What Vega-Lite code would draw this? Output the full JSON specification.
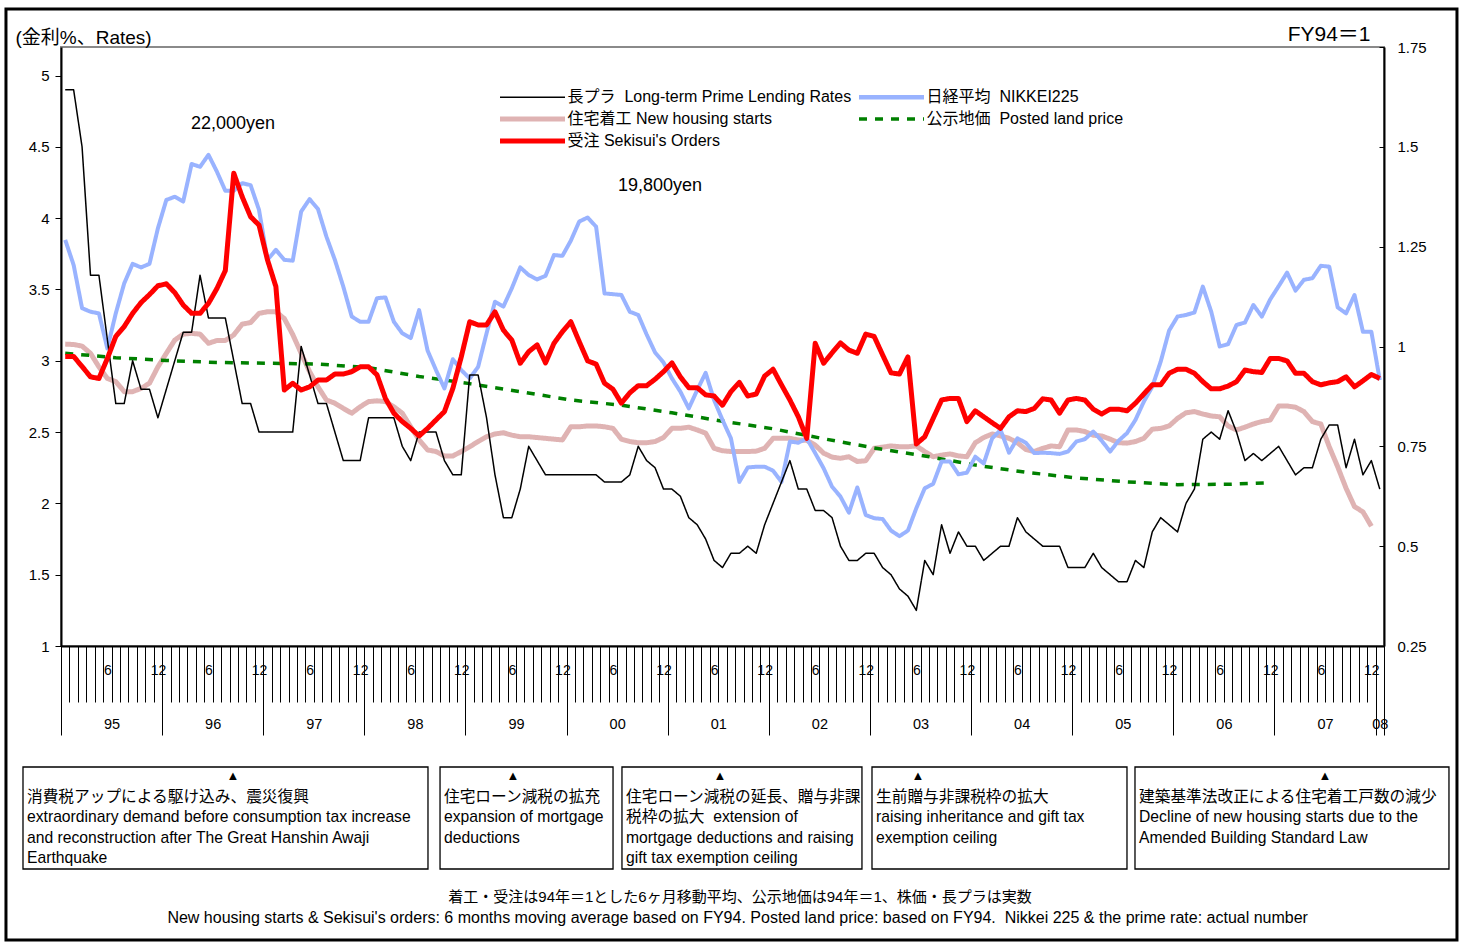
{
"$schema": "https://vega.github.io/schema/vega-lite/v6.json",
"width": 1323,
"height": 599,
"autosize": {"type": "none"},
"padding": {"left": 61, "top": 47, "right": 82, "bottom": 297},
"background": "white",
"config": {
  "font": "Liberation Sans, Noto Sans CJK JP, sans-serif",
  "view": {"stroke": "#8a8a8a", "strokeWidth": 2},
  "axis": {"grid": false, "domainColor": "black", "tickColor": "black", "labelColor": "black", "titleColor": "black", "titleFontWeight": "normal", "labelFont": "Liberation Sans, Noto Sans CJK JP, sans-serif", "titleFont": "Liberation Sans, Noto Sans CJK JP, sans-serif"},
  "legend": {"labelFont": "Liberation Sans, Noto Sans CJK JP, sans-serif", "labelColor": "black"},
  "text": {"font": "Liberation Sans, Noto Sans CJK JP, sans-serif", "color": "black"}
},
"datasets": {
  "prime": [{"m":0,"rate":4.9},{"m":1,"rate":4.9},{"m":2,"rate":4.5},{"m":3,"rate":3.6},{"m":4,"rate":3.6},{"m":5,"rate":3.15},{"m":6,"rate":2.7},{"m":7,"rate":2.7},{"m":8,"rate":3.0},{"m":9,"rate":2.8},{"m":10,"rate":2.8},{"m":11,"rate":2.6},{"m":12,"rate":2.8},{"m":13,"rate":3.0},{"m":14,"rate":3.2},{"m":15,"rate":3.2},{"m":16,"rate":3.6},{"m":17,"rate":3.3},{"m":18,"rate":3.3},{"m":19,"rate":3.3},{"m":20,"rate":3.0},{"m":21,"rate":2.7},{"m":22,"rate":2.7},{"m":23,"rate":2.5},{"m":24,"rate":2.5},{"m":25,"rate":2.5},{"m":26,"rate":2.5},{"m":27,"rate":2.5},{"m":28,"rate":3.1},{"m":29,"rate":2.9},{"m":30,"rate":2.7},{"m":31,"rate":2.7},{"m":32,"rate":2.5},{"m":33,"rate":2.3},{"m":34,"rate":2.3},{"m":35,"rate":2.3},{"m":36,"rate":2.6},{"m":37,"rate":2.6},{"m":38,"rate":2.6},{"m":39,"rate":2.6},{"m":40,"rate":2.4},{"m":41,"rate":2.3},{"m":42,"rate":2.5},{"m":43,"rate":2.5},{"m":44,"rate":2.5},{"m":45,"rate":2.3},{"m":46,"rate":2.2},{"m":47,"rate":2.2},{"m":48,"rate":2.9},{"m":49,"rate":2.9},{"m":50,"rate":2.6},{"m":51,"rate":2.2},{"m":52,"rate":1.9},{"m":53,"rate":1.9},{"m":54,"rate":2.1},{"m":55,"rate":2.4},{"m":56,"rate":2.3},{"m":57,"rate":2.2},{"m":58,"rate":2.2},{"m":59,"rate":2.2},{"m":60,"rate":2.2},{"m":61,"rate":2.2},{"m":62,"rate":2.2},{"m":63,"rate":2.2},{"m":64,"rate":2.15},{"m":65,"rate":2.15},{"m":66,"rate":2.15},{"m":67,"rate":2.2},{"m":68,"rate":2.4},{"m":69,"rate":2.3},{"m":70,"rate":2.25},{"m":71,"rate":2.1},{"m":72,"rate":2.1},{"m":73,"rate":2.05},{"m":74,"rate":1.9},{"m":75,"rate":1.85},{"m":76,"rate":1.75},{"m":77,"rate":1.6},{"m":78,"rate":1.55},{"m":79,"rate":1.65},{"m":80,"rate":1.65},{"m":81,"rate":1.7},{"m":82,"rate":1.65},{"m":83,"rate":1.85},{"m":84,"rate":2.0},{"m":85,"rate":2.15},{"m":86,"rate":2.3},{"m":87,"rate":2.1},{"m":88,"rate":2.1},{"m":89,"rate":1.95},{"m":90,"rate":1.95},{"m":91,"rate":1.9},{"m":92,"rate":1.7},{"m":93,"rate":1.6},{"m":94,"rate":1.6},{"m":95,"rate":1.65},{"m":96,"rate":1.65},{"m":97,"rate":1.55},{"m":98,"rate":1.5},{"m":99,"rate":1.4},{"m":100,"rate":1.35},{"m":101,"rate":1.25},{"m":102,"rate":1.6},{"m":103,"rate":1.5},{"m":104,"rate":1.85},{"m":105,"rate":1.65},{"m":106,"rate":1.8},{"m":107,"rate":1.7},{"m":108,"rate":1.7},{"m":109,"rate":1.6},{"m":110,"rate":1.65},{"m":111,"rate":1.7},{"m":112,"rate":1.7},{"m":113,"rate":1.9},{"m":114,"rate":1.8},{"m":115,"rate":1.75},{"m":116,"rate":1.7},{"m":117,"rate":1.7},{"m":118,"rate":1.7},{"m":119,"rate":1.55},{"m":120,"rate":1.55},{"m":121,"rate":1.55},{"m":122,"rate":1.65},{"m":123,"rate":1.55},{"m":124,"rate":1.5},{"m":125,"rate":1.45},{"m":126,"rate":1.45},{"m":127,"rate":1.6},{"m":128,"rate":1.55},{"m":129,"rate":1.8},{"m":130,"rate":1.9},{"m":131,"rate":1.85},{"m":132,"rate":1.8},{"m":133,"rate":2.0},{"m":134,"rate":2.1},{"m":135,"rate":2.45},{"m":136,"rate":2.5},{"m":137,"rate":2.45},{"m":138,"rate":2.65},{"m":139,"rate":2.5},{"m":140,"rate":2.3},{"m":141,"rate":2.35},{"m":142,"rate":2.3},{"m":143,"rate":2.35},{"m":144,"rate":2.4},{"m":145,"rate":2.3},{"m":146,"rate":2.2},{"m":147,"rate":2.25},{"m":148,"rate":2.25},{"m":149,"rate":2.45},{"m":150,"rate":2.55},{"m":151,"rate":2.55},{"m":152,"rate":2.25},{"m":153,"rate":2.45},{"m":154,"rate":2.2},{"m":155,"rate":2.3},{"m":156,"rate":2.1}],
  "orders": [{"m":0,"index":0.975},{"m":1,"index":0.975},{"m":2,"index":0.95},{"m":3,"index":0.924},{"m":4,"index":0.92},{"m":5,"index":0.97},{"m":6,"index":1.025},{"m":7,"index":1.05},{"m":8,"index":1.083},{"m":9,"index":1.11},{"m":10,"index":1.13},{"m":11,"index":1.152},{"m":12,"index":1.157},{"m":13,"index":1.135},{"m":14,"index":1.104},{"m":15,"index":1.083},{"m":16,"index":1.083},{"m":17,"index":1.108},{"m":18,"index":1.145},{"m":19,"index":1.19},{"m":20,"index":1.434},{"m":21,"index":1.375},{"m":22,"index":1.325},{"m":23,"index":1.304},{"m":24,"index":1.217},{"m":25,"index":1.15},{"m":26,"index":0.891},{"m":27,"index":0.908},{"m":28,"index":0.891},{"m":29,"index":0.899},{"m":30,"index":0.916},{"m":31,"index":0.916},{"m":32,"index":0.931},{"m":33,"index":0.931},{"m":34,"index":0.937},{"m":35,"index":0.949},{"m":36,"index":0.949},{"m":37,"index":0.929},{"m":38,"index":0.87},{"m":39,"index":0.833},{"m":40,"index":0.812},{"m":41,"index":0.795},{"m":42,"index":0.776},{"m":43,"index":0.795},{"m":44,"index":0.816},{"m":45,"index":0.837},{"m":46,"index":0.895},{"m":47,"index":0.974},{"m":48,"index":1.062},{"m":49,"index":1.054},{"m":50,"index":1.054},{"m":51,"index":1.087},{"m":52,"index":1.041},{"m":53,"index":1.016},{"m":54,"index":0.958},{"m":55,"index":0.987},{"m":56,"index":1.004},{"m":57,"index":0.959},{"m":58,"index":1.008},{"m":59,"index":1.037},{"m":60,"index":1.062},{"m":61,"index":1.012},{"m":62,"index":0.964},{"m":63,"index":0.956},{"m":64,"index":0.908},{"m":65,"index":0.893},{"m":66,"index":0.858},{"m":67,"index":0.884},{"m":68,"index":0.902},{"m":69,"index":0.902},{"m":70,"index":0.918},{"m":71,"index":0.937},{"m":72,"index":0.959},{"m":73,"index":0.924},{"m":74,"index":0.897},{"m":75,"index":0.897},{"m":76,"index":0.879},{"m":77,"index":0.876},{"m":78,"index":0.853},{"m":79,"index":0.887},{"m":80,"index":0.91},{"m":81,"index":0.876},{"m":82,"index":0.881},{"m":83,"index":0.926},{"m":84,"index":0.943},{"m":85,"index":0.904},{"m":86,"index":0.866},{"m":87,"index":0.824},{"m":88,"index":0.77},{"m":89,"index":1.008},{"m":90,"index":0.958},{"m":91,"index":0.984},{"m":92,"index":1.009},{"m":93,"index":0.991},{"m":94,"index":0.983},{"m":95,"index":1.031},{"m":96,"index":1.025},{"m":97,"index":0.979},{"m":98,"index":0.934},{"m":99,"index":0.931},{"m":100,"index":0.974},{"m":101,"index":0.756},{"m":102,"index":0.774},{"m":103,"index":0.82},{"m":104,"index":0.866},{"m":105,"index":0.87},{"m":106,"index":0.87},{"m":107,"index":0.812},{"m":108,"index":0.839},{"m":109,"index":0.824},{"m":110,"index":0.809},{"m":111,"index":0.795},{"m":112,"index":0.824},{"m":113,"index":0.839},{"m":114,"index":0.837},{"m":115,"index":0.845},{"m":116,"index":0.869},{"m":117,"index":0.866},{"m":118,"index":0.833},{"m":119,"index":0.866},{"m":120,"index":0.87},{"m":121,"index":0.866},{"m":122,"index":0.843},{"m":123,"index":0.831},{"m":124,"index":0.843},{"m":125,"index":0.843},{"m":126,"index":0.839},{"m":127,"index":0.858},{"m":128,"index":0.881},{"m":129,"index":0.904},{"m":130,"index":0.904},{"m":131,"index":0.933},{"m":132,"index":0.943},{"m":133,"index":0.943},{"m":134,"index":0.933},{"m":135,"index":0.912},{"m":136,"index":0.894},{"m":137,"index":0.894},{"m":138,"index":0.901},{"m":139,"index":0.912},{"m":140,"index":0.941},{"m":141,"index":0.937},{"m":142,"index":0.935},{"m":143,"index":0.97},{"m":144,"index":0.97},{"m":145,"index":0.964},{"m":146,"index":0.933},{"m":147,"index":0.933},{"m":148,"index":0.912},{"m":149,"index":0.904},{"m":150,"index":0.909},{"m":151,"index":0.912},{"m":152,"index":0.924},{"m":153,"index":0.899},{"m":154,"index":0.914},{"m":155,"index":0.93},{"m":156,"index":0.92}],
  "nikkei": [{"m":0,"index":1.267},{"m":1,"index":1.204},{"m":2,"index":1.096},{"m":3,"index":1.087},{"m":4,"index":1.083},{"m":5,"index":0.995},{"m":6,"index":1.083},{"m":7,"index":1.158},{"m":8,"index":1.207},{"m":9,"index":1.198},{"m":10,"index":1.207},{"m":11,"index":1.296},{"m":12,"index":1.367},{"m":13,"index":1.375},{"m":14,"index":1.363},{"m":15,"index":1.457},{"m":16,"index":1.45},{"m":17,"index":1.48},{"m":18,"index":1.438},{"m":19,"index":1.39},{"m":20,"index":1.39},{"m":21,"index":1.409},{"m":22,"index":1.404},{"m":23,"index":1.342},{"m":24,"index":1.217},{"m":25,"index":1.242},{"m":26,"index":1.217},{"m":27,"index":1.215},{"m":28,"index":1.338},{"m":29,"index":1.369},{"m":30,"index":1.344},{"m":31,"index":1.275},{"m":32,"index":1.217},{"m":33,"index":1.15},{"m":34,"index":1.075},{"m":35,"index":1.062},{"m":36,"index":1.062},{"m":37,"index":1.121},{"m":38,"index":1.123},{"m":39,"index":1.062},{"m":40,"index":1.033},{"m":41,"index":1.021},{"m":42,"index":1.091},{"m":43,"index":0.99},{"m":44,"index":0.941},{"m":45,"index":0.895},{"m":46,"index":0.968},{"m":47,"index":0.941},{"m":48,"index":0.92},{"m":49,"index":0.949},{"m":50,"index":1.033},{"m":51,"index":1.112},{"m":52,"index":1.1},{"m":53,"index":1.146},{"m":54,"index":1.198},{"m":55,"index":1.179},{"m":56,"index":1.168},{"m":57,"index":1.177},{"m":58,"index":1.229},{"m":59,"index":1.227},{"m":60,"index":1.265},{"m":61,"index":1.313},{"m":62,"index":1.323},{"m":63,"index":1.3},{"m":64,"index":1.133},{"m":65,"index":1.131},{"m":66,"index":1.129},{"m":67,"index":1.087},{"m":68,"index":1.079},{"m":69,"index":1.03},{"m":70,"index":0.985},{"m":71,"index":0.96},{"m":72,"index":0.92},{"m":73,"index":0.887},{"m":74,"index":0.845},{"m":75,"index":0.891},{"m":76,"index":0.934},{"m":77,"index":0.866},{"m":78,"index":0.816},{"m":79,"index":0.77},{"m":80,"index":0.661},{"m":81,"index":0.697},{"m":82,"index":0.699},{"m":83,"index":0.699},{"m":84,"index":0.689},{"m":85,"index":0.661},{"m":86,"index":0.762},{"m":87,"index":0.759},{"m":88,"index":0.77},{"m":89,"index":0.733},{"m":90,"index":0.695},{"m":91,"index":0.649},{"m":92,"index":0.624},{"m":93,"index":0.584},{"m":94,"index":0.647},{"m":95,"index":0.578},{"m":96,"index":0.57},{"m":97,"index":0.568},{"m":98,"index":0.539},{"m":99,"index":0.525},{"m":100,"index":0.539},{"m":101,"index":0.595},{"m":102,"index":0.645},{"m":103,"index":0.656},{"m":104,"index":0.712},{"m":105,"index":0.712},{"m":106,"index":0.68},{"m":107,"index":0.684},{"m":108,"index":0.724},{"m":109,"index":0.707},{"m":110,"index":0.77},{"m":111,"index":0.791},{"m":112,"index":0.734},{"m":113,"index":0.77},{"m":114,"index":0.759},{"m":115,"index":0.733},{"m":116,"index":0.734},{"m":117,"index":0.733},{"m":118,"index":0.731},{"m":119,"index":0.737},{"m":120,"index":0.762},{"m":121,"index":0.768},{"m":122,"index":0.787},{"m":123,"index":0.764},{"m":124,"index":0.737},{"m":125,"index":0.764},{"m":126,"index":0.783},{"m":127,"index":0.816},{"m":128,"index":0.862},{"m":129,"index":0.899},{"m":130,"index":0.962},{"m":131,"index":1.04},{"m":132,"index":1.075},{"m":133,"index":1.079},{"m":134,"index":1.085},{"m":135,"index":1.15},{"m":136,"index":1.087},{"m":137,"index":1.0},{"m":138,"index":1.006},{"m":139,"index":1.054},{"m":140,"index":1.06},{"m":141,"index":1.104},{"m":142,"index":1.075},{"m":143,"index":1.118},{"m":144,"index":1.151},{"m":145,"index":1.185},{"m":146,"index":1.14},{"m":147,"index":1.167},{"m":148,"index":1.171},{"m":149,"index":1.202},{"m":150,"index":1.2},{"m":151,"index":1.098},{"m":152,"index":1.083},{"m":153,"index":1.129},{"m":154,"index":1.037},{"m":155,"index":1.037},{"m":156,"index":0.916}],
  "starts": [{"m":0,"index":1.006},{"m":1,"index":1.005},{"m":2,"index":1.001},{"m":3,"index":0.983},{"m":4,"index":0.949},{"m":5,"index":0.92},{"m":6,"index":0.912},{"m":7,"index":0.887},{"m":8,"index":0.887},{"m":9,"index":0.895},{"m":10,"index":0.908},{"m":11,"index":0.949},{"m":12,"index":0.983},{"m":13,"index":1.016},{"m":14,"index":1.031},{"m":15,"index":1.033},{"m":16,"index":1.031},{"m":17,"index":1.008},{"m":18,"index":1.015},{"m":19,"index":1.015},{"m":20,"index":1.029},{"m":21,"index":1.056},{"m":22,"index":1.06},{"m":23,"index":1.083},{"m":24,"index":1.087},{"m":25,"index":1.087},{"m":26,"index":1.07},{"m":27,"index":1.03},{"m":28,"index":0.983},{"m":29,"index":0.937},{"m":30,"index":0.899},{"m":31,"index":0.866},{"m":32,"index":0.858},{"m":33,"index":0.845},{"m":34,"index":0.833},{"m":35,"index":0.849},{"m":36,"index":0.862},{"m":37,"index":0.864},{"m":38,"index":0.862},{"m":39,"index":0.849},{"m":40,"index":0.833},{"m":41,"index":0.799},{"m":42,"index":0.766},{"m":43,"index":0.741},{"m":44,"index":0.737},{"m":45,"index":0.726},{"m":46,"index":0.726},{"m":47,"index":0.737},{"m":48,"index":0.749},{"m":49,"index":0.762},{"m":50,"index":0.774},{"m":51,"index":0.781},{"m":52,"index":0.784},{"m":53,"index":0.778},{"m":54,"index":0.774},{"m":55,"index":0.774},{"m":56,"index":0.772},{"m":57,"index":0.77},{"m":58,"index":0.768},{"m":59,"index":0.766},{"m":60,"index":0.799},{"m":61,"index":0.799},{"m":62,"index":0.801},{"m":63,"index":0.801},{"m":64,"index":0.799},{"m":65,"index":0.795},{"m":66,"index":0.768},{"m":67,"index":0.762},{"m":68,"index":0.759},{"m":69,"index":0.759},{"m":70,"index":0.762},{"m":71,"index":0.772},{"m":72,"index":0.795},{"m":73,"index":0.795},{"m":74,"index":0.798},{"m":75,"index":0.791},{"m":76,"index":0.783},{"m":77,"index":0.745},{"m":78,"index":0.739},{"m":79,"index":0.737},{"m":80,"index":0.737},{"m":81,"index":0.737},{"m":82,"index":0.738},{"m":83,"index":0.745},{"m":84,"index":0.77},{"m":85,"index":0.77},{"m":86,"index":0.77},{"m":87,"index":0.766},{"m":88,"index":0.765},{"m":89,"index":0.753},{"m":90,"index":0.733},{"m":91,"index":0.723},{"m":92,"index":0.72},{"m":93,"index":0.724},{"m":94,"index":0.712},{"m":95,"index":0.714},{"m":96,"index":0.745},{"m":97,"index":0.748},{"m":98,"index":0.751},{"m":99,"index":0.749},{"m":100,"index":0.749},{"m":101,"index":0.751},{"m":102,"index":0.737},{"m":103,"index":0.724},{"m":104,"index":0.728},{"m":105,"index":0.731},{"m":106,"index":0.726},{"m":107,"index":0.724},{"m":108,"index":0.759},{"m":109,"index":0.772},{"m":110,"index":0.781},{"m":111,"index":0.776},{"m":112,"index":0.77},{"m":113,"index":0.759},{"m":114,"index":0.742},{"m":115,"index":0.737},{"m":116,"index":0.745},{"m":117,"index":0.751},{"m":118,"index":0.749},{"m":119,"index":0.791},{"m":120,"index":0.791},{"m":121,"index":0.787},{"m":122,"index":0.778},{"m":123,"index":0.776},{"m":124,"index":0.768},{"m":125,"index":0.759},{"m":126,"index":0.758},{"m":127,"index":0.762},{"m":128,"index":0.77},{"m":129,"index":0.793},{"m":130,"index":0.795},{"m":131,"index":0.801},{"m":132,"index":0.82},{"m":133,"index":0.834},{"m":134,"index":0.837},{"m":135,"index":0.831},{"m":136,"index":0.826},{"m":137,"index":0.824},{"m":138,"index":0.801},{"m":139,"index":0.791},{"m":140,"index":0.798},{"m":141,"index":0.806},{"m":142,"index":0.812},{"m":143,"index":0.816},{"m":144,"index":0.851},{"m":145,"index":0.851},{"m":146,"index":0.848},{"m":147,"index":0.837},{"m":148,"index":0.812},{"m":149,"index":0.806},{"m":150,"index":0.749},{"m":151,"index":0.699},{"m":152,"index":0.645},{"m":153,"index":0.599},{"m":154,"index":0.586},{"m":155,"index":0.55}],
  "land": [{"m":0,"index":0.983},{"m":6,"index":0.972},{"m":12,"index":0.965},{"m":18,"index":0.96},{"m":24,"index":0.958},{"m":30,"index":0.956},{"m":36,"index":0.947},{"m":42,"index":0.925},{"m":48,"index":0.907},{"m":54,"index":0.887},{"m":60,"index":0.866},{"m":66,"index":0.853},{"m":72,"index":0.834},{"m":78,"index":0.813},{"m":84,"index":0.794},{"m":90,"index":0.769},{"m":96,"index":0.746},{"m":102,"index":0.726},{"m":108,"index":0.703},{"m":114,"index":0.685},{"m":120,"index":0.671},{"m":126,"index":0.661},{"m":132,"index":0.654},{"m":138,"index":0.655},{"m":143,"index":0.659}]
},
"resolve": {"scale": {"y": "independent"}, "axis": {"x": "independent"}},
"layer": [
  {
    "encoding": {
      "x": {"field": "m", "type": "quantitative", "scale": {"domain": [-0.5, 156.5], "nice": false, "zero": false},
        "axis": {"orient": "bottom", "title": null, "values": [5,11,17,23,29,35,41,47,53,59,65,71,77,83,89,95,101,107,113,119,125,131,137,143,149,155], "labelExpr": "datum.value % 12 == 5 ? '6' : '12'", "ticks": false, "tickSize": 0, "domain": false, "labelPadding": 17, "labelFontSize": 14, "labelOverlap": false, "labelFlush": false, "labelBound": false}},
      "y": {"field": "index", "type": "quantitative", "scale": {"domain": [0.25, 1.75], "nice": false, "zero": false},
        "axis": {"orient": "right", "values": [0.25,0.5,0.75,1,1.25,1.5,1.75], "format": ".3~g", "labelFontSize": 15, "tickSize": -5, "labelPadding": 18, "domainWidth": 2, "title": "FY94＝1", "titleAngle": 0, "titleAlign": "right", "titleBaseline": "middle", "titleX": -14, "titleY": -13, "titleFontSize": 21}}
    },
    "layer": [
      {"data": {"name": "starts"}, "mark": {"type": "line", "strokeJoin": "round", "strokeWidth": 5},
       "encoding": {
         "color": {"datum": "住宅着工 New housing starts", "type": "nominal", "title": null,
           "scale": {"domain": ["長プラ\u00a0\u00a0Long-term Prime Lending Rates", "住宅着工 New housing starts", "受注 Sekisui's Orders", "日経平均\u00a0\u00a0NIKKEI225", "公示地価\u00a0\u00a0Posted land price"], "range": ["#000000", "#dfb3b3", "#ff0000", "#99b3ff", "#008000"]},
           "legend": {"orient": "none", "legendX": 436.5, "legendY": 39.25, "direction": "vertical", "columns": 2, "symbolType": "stroke", "symbolSize": 4225, "clipHeight": 21.5, "rowPadding": 0, "columnPadding": 5, "labelOffset": 0, "labelFontSize": 16, "labelLimit": 600, "padding": 0, "title": null,
             "encode": {"symbols": {"update": {"size": {"value": 4225}, "shape": {"value": "stroke"}, "strokeWidth": {"signal": "(datum.index === 0 ? 1.5 : (datum.index === 4 ? 3.5 : (datum.index === 3 ? 4.5 : 5)))"}}}}}},
         "strokeDash": {"datum": "住宅着工 New housing starts", "type": "nominal", "title": null,
           "scale": {"domain": ["長プラ\u00a0\u00a0Long-term Prime Lending Rates", "住宅着工 New housing starts", "受注 Sekisui's Orders", "日経平均\u00a0\u00a0NIKKEI225", "公示地価\u00a0\u00a0Posted land price"], "range": [[1,0],[1,0],[1,0],[1,0],[8,8]]}}
       }},
      {"data": {"name": "land"}, "mark": {"type": "line", "strokeWidth": 3.5},
       "encoding": {
         "color": {"datum": "公示地価\u00a0\u00a0Posted land price", "type": "nominal", "title": null},
         "strokeDash": {"datum": "公示地価\u00a0\u00a0Posted land price", "type": "nominal", "title": null}
       }},
      {"data": {"name": "nikkei"}, "mark": {"type": "line", "strokeJoin": "round", "strokeWidth": 4},
       "encoding": {
         "color": {"datum": "日経平均\u00a0\u00a0NIKKEI225", "type": "nominal", "title": null},
         "strokeDash": {"datum": "日経平均\u00a0\u00a0NIKKEI225", "type": "nominal", "title": null}
       }}
    ]
  },
  {
    "data": {"name": "prime"},
    "mark": {"type": "line", "strokeJoin": "round", "strokeWidth": 1.5},
    "encoding": {
      "x": {"field": "m", "type": "quantitative", "scale": {"domain": [-0.5, 156.5], "nice": false, "zero": false},
        "axis": {"orient": "bottom", "title": null, "labels": false, "ticks": true, "tickSize": 56, "tickWidth": 1, "domain": true, "domainWidth": 2,
          "values": [-0.5,0.5,1.5,2.5,3.5,4.5,5.5,6.5,7.5,8.5,9.5,10.5,11.5,12.5,13.5,14.5,15.5,16.5,17.5,18.5,19.5,20.5,21.5,22.5,23.5,24.5,25.5,26.5,27.5,28.5,29.5,30.5,31.5,32.5,33.5,34.5,35.5,36.5,37.5,38.5,39.5,40.5,41.5,42.5,43.5,44.5,45.5,46.5,47.5,48.5,49.5,50.5,51.5,52.5,53.5,54.5,55.5,56.5,57.5,58.5,59.5,60.5,61.5,62.5,63.5,64.5,65.5,66.5,67.5,68.5,69.5,70.5,71.5,72.5,73.5,74.5,75.5,76.5,77.5,78.5,79.5,80.5,81.5,82.5,83.5,84.5,85.5,86.5,87.5,88.5,89.5,90.5,91.5,92.5,93.5,94.5,95.5,96.5,97.5,98.5,99.5,100.5,101.5,102.5,103.5,104.5,105.5,106.5,107.5,108.5,109.5,110.5,111.5,112.5,113.5,114.5,115.5,116.5,117.5,118.5,119.5,120.5,121.5,122.5,123.5,124.5,125.5,126.5,127.5,128.5,129.5,130.5,131.5,132.5,133.5,134.5,135.5,136.5,137.5,138.5,139.5,140.5,141.5,142.5,143.5,144.5,145.5,146.5,147.5,148.5,149.5,150.5,151.5,152.5,153.5,154.5,155.5,156.5]}},
      "y": {"field": "rate", "type": "quantitative", "scale": {"domain": [1, 5.2], "nice": false, "zero": false},
        "axis": {"orient": "left", "values": [1,1.5,2,2.5,3,3.5,4,4.5,5], "format": ".3~g", "labelFontSize": 15, "tickSize": 6, "labelPadding": 6, "domainWidth": 2, "title": "(金利%、Rates)", "titleAngle": 0, "titleAlign": "left", "titleBaseline": "middle", "titleX": -46, "titleY": -10, "titleFontSize": 19}},
      "color": {"datum": "長プラ\u00a0\u00a0Long-term Prime Lending Rates", "type": "nominal", "title": null},
      "strokeDash": {"datum": "長プラ\u00a0\u00a0Long-term Prime Lending Rates", "type": "nominal", "title": null}
    }
  },
  {
    "data": {"name": "orders"},
    "mark": {"type": "line", "strokeJoin": "round", "strokeWidth": 5},
    "encoding": {
      "x": {"field": "m", "type": "quantitative", "scale": {"domain": [-0.5, 156.5], "nice": false, "zero": false}, "axis": null},
      "y": {"field": "index", "type": "quantitative", "scale": {"domain": [0.25, 1.75], "nice": false, "zero": false}, "axis": null},
      "color": {"datum": "受注 Sekisui's Orders", "type": "nominal", "title": null},
      "strokeDash": {"datum": "受注 Sekisui's Orders", "type": "nominal", "title": null}
    }
  },
  {
    "data": {"values": [{"left": -7.03, "right": 165.16, "top": 5.466, "bottom": -1.061}]},
    "mark": {"type": "rect", "filled": false, "stroke": "black", "strokeWidth": 3},
    "encoding": {
      "x": {"field": "left", "type": "quantitative", "scale": {"domain": [-0.5, 156.5], "nice": false, "zero": false},
        "axis": {"orient": "bottom", "title": null, "labels": false, "ticks": true, "tickSize": 89, "tickWidth": 1, "domain": false, "values": [-0.5,11.5,23.5,35.5,47.5,59.5,71.5,83.5,95.5,107.5,119.5,131.5,143.5,155.5,156.5]}},
      "x2": {"field": "right"},
      "y": {"field": "top", "type": "quantitative", "scale": {"domain": [1, 5.2], "nice": false, "zero": false}, "axis": null},
      "y2": {"field": "bottom"}
    }
  },
  {
    "data": {"values": [
      {"left": -5.01, "right": 43.05, "top": 0.1517, "bottom": -0.5636},
      {"left": 44.48, "right": 65.01, "top": 0.1517, "bottom": -0.5636},
      {"left": 66.07, "right": 94.55, "top": 0.1517, "bottom": -0.5636},
      {"left": 95.74, "right": 126.0, "top": 0.1517, "bottom": -0.5636},
      {"left": 126.95, "right": 164.21, "top": 0.1517, "bottom": -0.5636}
    ]},
    "mark": {"type": "rect", "filled": false, "stroke": "black", "strokeWidth": 1.3},
    "encoding": {
      "x": {"field": "left", "type": "quantitative", "scale": {"domain": [-0.5, 156.5], "nice": false, "zero": false}, "axis": null},
      "x2": {"field": "right"},
      "y": {"field": "top", "type": "quantitative", "scale": {"domain": [1, 5.2], "nice": false, "zero": false}, "axis": null},
      "y2": {"field": "bottom"}
    }
  },
  {
    "data": {"values": [
      {"m": 19.91, "rate": 0.0885, "note": "▲"},
      {"m": 53.14, "rate": 0.0885, "note": "▲"},
      {"m": 77.7, "rate": 0.0885, "note": "▲"},
      {"m": 101.2, "rate": 0.0885, "note": "▲"},
      {"m": 149.5, "rate": 0.0885, "note": "▲"}
    ]},
    "mark": {"type": "text", "fontSize": 13, "align": "center", "baseline": "middle"},
    "encoding": {
      "x": {"field": "m", "type": "quantitative", "scale": {"domain": [-0.5, 156.5], "nice": false, "zero": false}, "axis": null},
      "y": {"field": "rate", "type": "quantitative", "scale": {"domain": [1, 5.2], "nice": false, "zero": false}, "axis": null},
      "text": {"field": "note", "type": "nominal"}
    }
  },
  {
    "data": {"values": [
      {"m": -4.535, "rate": -0.01, "note": "消費税アップによる駆け込み、震災復興\nextraordinary demand before consumption tax increase\nand reconstruction after The Great Hanshin Awaji\nEarthquake"},
      {"m": 44.95, "rate": -0.01, "note": "住宅ローン減税の拡充\nexpansion of mortgage\ndeductions"},
      {"m": 66.55, "rate": -0.01, "note": "住宅ローン減税の延長、贈与非課\n税枠の拡大\u00a0\u00a0extension of\nmortgage deductions and raising\ngift tax exemption ceiling"},
      {"m": 96.22, "rate": -0.01, "note": "生前贈与非課税枠の拡大\n\u00a0raising inheritance and gift tax\nexemption ceiling"},
      {"m": 127.43, "rate": -0.01, "note": "建築基準法改正による住宅着工戸数の減少\nDecline of new housing starts due to the\nAmended Building Standard Law"}
    ]},
    "mark": {"type": "text", "fontSize": 15.7, "align": "left", "baseline": "top", "lineBreak": "\n", "lineHeight": 20.3},
    "encoding": {
      "x": {"field": "m", "type": "quantitative", "scale": {"domain": [-0.5, 156.5], "nice": false, "zero": false},
        "axis": {"orient": "bottom", "title": null, "values": [5.5,17.5,29.5,41.5,53.5,65.5,77.5,89.5,101.5,113.5,125.5,137.5,149.5,156], "labelExpr": "((95 + floor(datum.value / 12)) % 100 < 10 ? '0' : '') + ((95 + floor(datum.value / 12)) % 100)", "ticks": false, "tickSize": 0, "domain": false, "labelPadding": 71, "labelFontSize": 14.5, "labelOverlap": false, "labelFlush": false, "labelBound": false}},
      "y": {"field": "rate", "type": "quantitative", "scale": {"domain": [1, 5.2], "nice": false, "zero": false}, "axis": null},
      "text": {"field": "note", "type": "nominal"}
    }
  },
  {
    "data": {"values": [
      {"m": 80.08, "rate": -0.76, "note": "着工・受注は94年＝1とした6ヶ月移動平均、公示地価は94年＝1、株価・長プラは実数"}
    ]},
    "mark": {"type": "text", "fontSize": 15, "align": "center", "baseline": "middle"},
    "encoding": {
      "x": {"field": "m", "type": "quantitative", "scale": {"domain": [-0.5, 156.5], "nice": false, "zero": false}, "axis": null},
      "y": {"field": "rate", "type": "quantitative", "scale": {"domain": [1, 5.2], "nice": false, "zero": false}, "axis": null},
      "text": {"field": "note", "type": "nominal"}
    }
  },
  {
    "data": {"values": [
      {"m": 79.8, "rate": -0.907, "note": "New housing starts & Sekisui's orders: 6 months moving average based on FY94. Posted land price: based on FY94.\u00a0\u00a0Nikkei 225 & the prime rate: actual number"}
    ]},
    "mark": {"type": "text", "fontSize": 16, "align": "center", "baseline": "middle"},
    "encoding": {
      "x": {"field": "m", "type": "quantitative", "scale": {"domain": [-0.5, 156.5], "nice": false, "zero": false}, "axis": null},
      "y": {"field": "rate", "type": "quantitative", "scale": {"domain": [1, 5.2], "nice": false, "zero": false}, "axis": null},
      "text": {"field": "note", "type": "nominal"}
    }
  },
  {
    "data": {"values": [
      {"m": 14.93, "rate": 4.66, "note": "22,000yen"},
      {"m": 65.6, "rate": 4.225, "note": "19,800yen"}
    ]},
    "mark": {"type": "text", "fontSize": 18, "align": "left", "baseline": "middle"},
    "encoding": {
      "x": {"field": "m", "type": "quantitative", "scale": {"domain": [-0.5, 156.5], "nice": false, "zero": false}, "axis": null},
      "y": {"field": "rate", "type": "quantitative", "scale": {"domain": [1, 5.2], "nice": false, "zero": false}, "axis": null},
      "text": {"field": "note", "type": "nominal"}
    }
  }
]
}
